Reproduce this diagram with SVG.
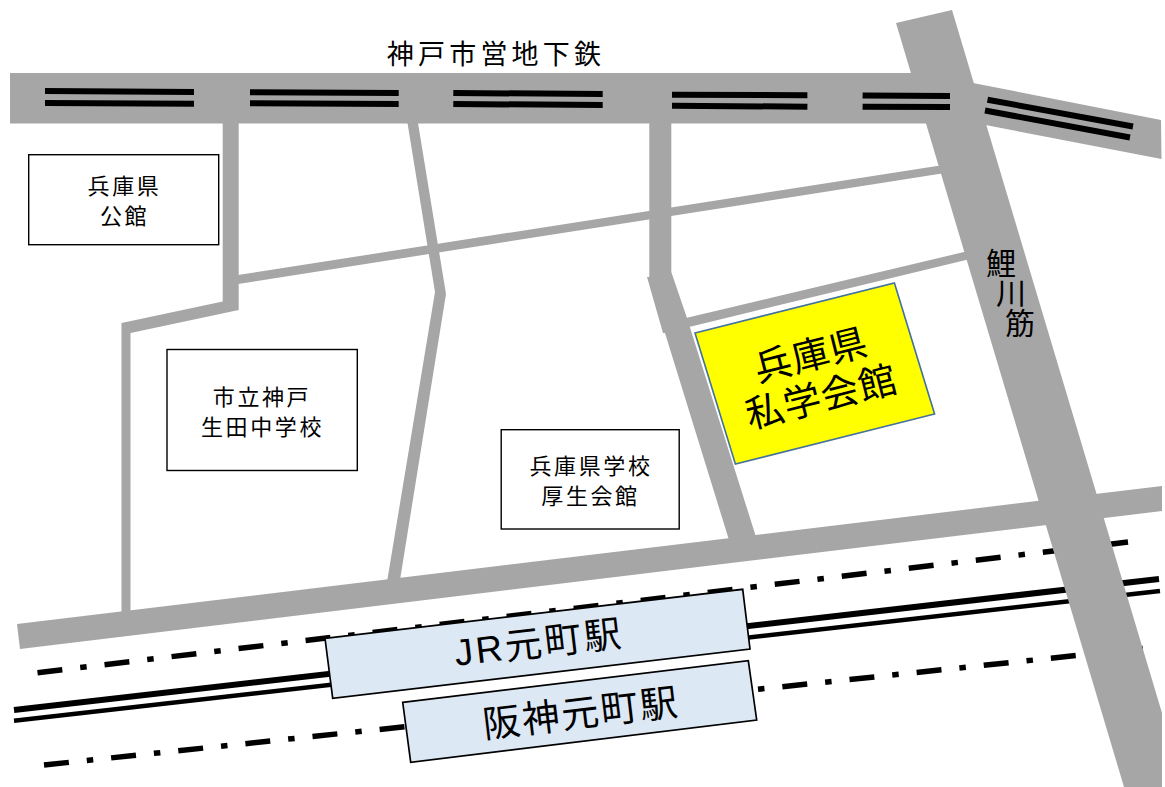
<svg xmlns="http://www.w3.org/2000/svg" width="1165" height="787" viewBox="0 0 1165 787">
<style>
.road{fill:#a6a6a6}
.rail{stroke:#000;stroke-width:6;fill:none}
.track{stroke:#000;fill:none}
.dd{stroke:#000;stroke-width:5.5;fill:none;stroke-dasharray:25 18 6.5 18}
.box{fill:#fff;stroke:#000;stroke-width:1.4}
.st{fill:#dde8f5;stroke:#000;stroke-width:1.7}
text{font-family:"Noto Sans CJK JP","Noto Sans",sans-serif;fill:#000;text-anchor:middle}
.s21{font-size:22px;letter-spacing:2.6px}
.s37{font-size:37.5px;letter-spacing:1.2px}
.lat{font-family:"Liberation Sans","Noto Sans CJK JP",sans-serif}
</style>
<rect width="1165" height="787" fill="#fff"/>
<g id="tracks">
<line class="dd" x1="37.5" y1="672.7" x2="1128" y2="542"/>
<line class="dd" x1="44" y1="765" x2="1150" y2="647.7"/>
<line class="track" stroke-width="6" x1="14" y1="710" x2="1159" y2="579"/>
<line class="track" stroke-width="4.5" x1="14" y1="720.7" x2="1160" y2="591"/>
</g>
<g id="roads">
<polygon class="road" points="10,73 925,73 985,124 925,123.5 10,123.5"/>
<polygon class="road" points="896,23 952,10 1162,713 1162,787 1124,787"/>
<polygon class="road" points="960,80 973,83 1161,120 1161.5,159 985.5,125 970,120"/>
<polygon class="road" points="17,624 1162,486 1162,511 20,649"/>
<polygon class="road" points="222.7,120 238.7,120 238.7,310 130.5,333 130.5,615 121.5,615 121.5,323 222.7,301.5"/>
<polygon class="road" points="407,120 417.5,120 446,294 400,580 387,582 435,292"/>
<polygon class="road" points="238,275 937,166 945,166 945,173 238,284"/>
<polygon class="road" points="649.3,120 671.3,120 671.3,272 687,318 756,537 729,540 665,333 663,333 647,277 649.3,277"/>
<polygon class="road" points="686,318 964,252 970,252 970,259 966,260 689,327"/>
</g>
<g id="subway-rails">
<line class="rail" x1="45" y1="91" x2="194" y2="92"/>
<line class="rail" x1="45" y1="103" x2="194" y2="103.7"/>
<line class="rail" x1="250" y1="92.2" x2="398.7" y2="93"/>
<line class="rail" x1="250" y1="103.3" x2="398.7" y2="104"/>
<line class="rail" x1="453.3" y1="93" x2="602.7" y2="94"/>
<line class="rail" x1="453.3" y1="104" x2="602.7" y2="105"/>
<line class="rail" x1="672" y1="94.7" x2="807.4" y2="95.3"/>
<line class="rail" x1="672" y1="105.7" x2="807.4" y2="106.7"/>
<line class="rail" x1="862.6" y1="95.5" x2="950" y2="96"/>
<line class="rail" x1="862.6" y1="106.7" x2="950" y2="107"/>
<line class="rail" x1="987.5" y1="99.7" x2="1133" y2="126.5"/>
<line class="rail" x1="985" y1="110.5" x2="1130" y2="137.5"/>
</g>
<g id="label-subway"><text x="496" y="64" style="font-size:27px;letter-spacing:4.2px">神戸市営地下鉄</text></g>
<g id="node-kenkoukan">
<rect class="box" x="28.7" y="154.7" width="190" height="90"/>
<text class="s21" x="124.5" y="194">兵庫県</text>
<text class="s21" x="124.5" y="224">公館</text>
</g>
<g id="node-ikuta">
<rect class="box" x="167" y="349.5" width="190.3" height="121"/>
<text class="s21" x="262" y="404.5">市立神戸</text>
<text class="s21" x="262.5" y="435">生田中学校</text>
</g>
<g id="node-kousei">
<rect class="box" x="501.2" y="429.7" width="178" height="99.3"/>
<text class="s21" x="591" y="474">兵庫県学校</text>
<text class="s21" x="590.5" y="504">厚生会館</text>
</g>
<g id="node-shigaku">
<polygon points="695,333 894.4,283 934.6,414 735.4,464" fill="#ffff00" stroke="#41719c" stroke-width="1.6"/>
<text class="s37" transform="translate(811,355) rotate(-14.2)" y="13.5">兵庫県</text>
<text class="s37" transform="translate(821.5,397) rotate(-14.2)" y="13.5">私学会館</text>
</g>
<g id="label-koigawa">
<text x="1001 1011 1020" y="274 304 334" style="font-size:30px">鯉川筋</text>
</g>
<g id="node-jr">
<polygon class="st" points="325,638.3 742.7,589.3 750,649 332.7,698.3"/>
<text class="lat" transform="translate(539,643) rotate(-6.7)" y="13" style="font-size:37px;letter-spacing:2.8px">JR元町駅</text>
</g>
<g id="node-hanshin">
<polygon class="st" points="402.7,702.3 748.3,660.7 756.7,720 410.7,762.3"/>
<text transform="translate(581,713) rotate(-6.8)" y="13.5" style="font-size:37.5px;letter-spacing:2px">阪神元町駅</text>
</g>
</svg>
